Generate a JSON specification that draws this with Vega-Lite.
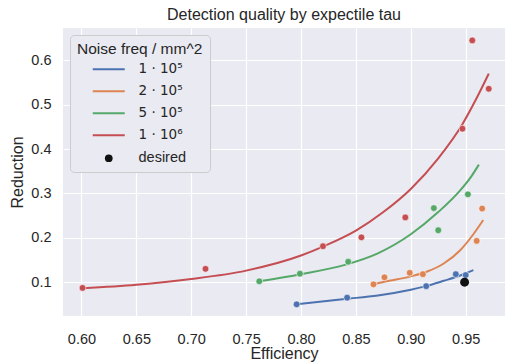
{
  "$schema": "https://vega.github.io/schema/vega-lite/v6.json",
  "autosize": "none",
  "width": 442,
  "height": 288,
  "padding": {"left": 63, "top": 28, "right": 0, "bottom": 48},
  "title": {"text": "Detection quality by expectile tau", "font": "Liberation Sans", "fontSize": 16, "fontWeight": "normal", "color": "#262626", "offset": 5},
  "config": {
    "view": {"fill": "#EAEAF2", "stroke": null},
    "axis": {"domain": false, "ticks": false, "gridColor": "#ffffff", "gridWidth": 1.2, "labelFont": "Liberation Sans", "labelFontSize": 14.5, "labelColor": "#262626", "titleFont": "Liberation Sans", "titleFontSize": 16, "titleFontWeight": "normal", "titleColor": "#262626"},
    "legend": {
      "orient": "none", "legendX": 7, "legendY": 7,
      "fillColor": "#EAEAF2", "strokeColor": "#cccccc", "cornerRadius": 4, "padding": 7,
      "titleFont": "Liberation Sans", "titleFontSize": 15.5, "titleFontWeight": "normal", "titleColor": "#262626",
      "labelFont": "Liberation Sans", "labelFontSize": 14.5, "labelColor": "#262626",
      "symbolSize": 1024, "symbolStrokeWidth": 2, "symbolOffset": 25, "labelOffset": 23, "rowPadding": 7, "titlePadding": 5
    }
  },
  "datasets": {
    "curves": [
      {"series": "1 · 10⁶", "x": 0.601, "y": 0.086},
      {"series": "1 · 10⁶", "x": 0.65, "y": 0.094},
      {"series": "1 · 10⁶", "x": 0.70, "y": 0.107},
      {"series": "1 · 10⁶", "x": 0.75, "y": 0.126},
      {"series": "1 · 10⁶", "x": 0.80, "y": 0.160},
      {"series": "1 · 10⁶", "x": 0.82, "y": 0.180},
      {"series": "1 · 10⁶", "x": 0.85, "y": 0.216},
      {"series": "1 · 10⁶", "x": 0.875, "y": 0.258},
      {"series": "1 · 10⁶", "x": 0.90, "y": 0.310},
      {"series": "1 · 10⁶", "x": 0.925, "y": 0.379},
      {"series": "1 · 10⁶", "x": 0.947, "y": 0.456},
      {"series": "1 · 10⁶", "x": 0.960, "y": 0.515},
      {"series": "1 · 10⁶", "x": 0.971, "y": 0.570},
      {"series": "5 · 10⁵", "x": 0.762, "y": 0.102},
      {"series": "5 · 10⁵", "x": 0.80, "y": 0.118},
      {"series": "5 · 10⁵", "x": 0.84, "y": 0.139},
      {"series": "5 · 10⁵", "x": 0.87, "y": 0.165},
      {"series": "5 · 10⁵", "x": 0.90, "y": 0.208},
      {"series": "5 · 10⁵", "x": 0.925, "y": 0.258},
      {"series": "5 · 10⁵", "x": 0.945, "y": 0.307},
      {"series": "5 · 10⁵", "x": 0.955, "y": 0.338},
      {"series": "5 · 10⁵", "x": 0.962, "y": 0.365},
      {"series": "2 · 10⁵", "x": 0.866, "y": 0.095},
      {"series": "2 · 10⁵", "x": 0.876, "y": 0.101},
      {"series": "2 · 10⁵", "x": 0.90, "y": 0.113},
      {"series": "2 · 10⁵", "x": 0.915, "y": 0.124},
      {"series": "2 · 10⁵", "x": 0.93, "y": 0.142},
      {"series": "2 · 10⁵", "x": 0.945, "y": 0.172},
      {"series": "2 · 10⁵", "x": 0.957, "y": 0.208},
      {"series": "2 · 10⁵", "x": 0.966, "y": 0.240},
      {"series": "1 · 10⁵", "x": 0.796, "y": 0.050},
      {"series": "1 · 10⁵", "x": 0.84, "y": 0.062},
      {"series": "1 · 10⁵", "x": 0.87, "y": 0.070},
      {"series": "1 · 10⁵", "x": 0.90, "y": 0.083},
      {"series": "1 · 10⁵", "x": 0.914, "y": 0.091},
      {"series": "1 · 10⁵", "x": 0.93, "y": 0.103},
      {"series": "1 · 10⁵", "x": 0.945, "y": 0.115},
      {"series": "1 · 10⁵", "x": 0.957, "y": 0.127}
    ],
    "points": [
      {"series": "1 · 10⁶", "x": 0.601, "y": 0.087},
      {"series": "1 · 10⁶", "x": 0.713, "y": 0.130},
      {"series": "1 · 10⁶", "x": 0.820, "y": 0.181},
      {"series": "1 · 10⁶", "x": 0.855, "y": 0.201},
      {"series": "1 · 10⁶", "x": 0.895, "y": 0.246},
      {"series": "1 · 10⁶", "x": 0.947, "y": 0.446},
      {"series": "1 · 10⁶", "x": 0.956, "y": 0.645},
      {"series": "1 · 10⁶", "x": 0.971, "y": 0.536},
      {"series": "5 · 10⁵", "x": 0.762, "y": 0.102},
      {"series": "5 · 10⁵", "x": 0.799, "y": 0.119},
      {"series": "5 · 10⁵", "x": 0.843, "y": 0.146},
      {"series": "5 · 10⁵", "x": 0.921, "y": 0.267},
      {"series": "5 · 10⁵", "x": 0.925, "y": 0.217},
      {"series": "5 · 10⁵", "x": 0.952, "y": 0.298},
      {"series": "2 · 10⁵", "x": 0.866, "y": 0.095},
      {"series": "2 · 10⁵", "x": 0.876, "y": 0.111},
      {"series": "2 · 10⁵", "x": 0.899, "y": 0.121},
      {"series": "2 · 10⁵", "x": 0.911, "y": 0.118},
      {"series": "2 · 10⁵", "x": 0.960, "y": 0.193},
      {"series": "2 · 10⁵", "x": 0.965, "y": 0.266},
      {"series": "1 · 10⁵", "x": 0.796, "y": 0.050},
      {"series": "1 · 10⁵", "x": 0.842, "y": 0.065},
      {"series": "1 · 10⁵", "x": 0.914, "y": 0.091},
      {"series": "1 · 10⁵", "x": 0.941, "y": 0.118},
      {"series": "1 · 10⁵", "x": 0.950, "y": 0.116}
    ],
    "desired": [
      {"series": "desired", "x": 0.949, "y": 0.100}
    ]
  },
  "encoding": {
    "x": {"field": "x", "type": "quantitative", "title": "Efficiency",
      "scale": {"domain": [0.5832, 0.9858], "nice": false, "zero": false},
      "axis": {"values": [0.6, 0.65, 0.7, 0.75, 0.8, 0.85, 0.9, 0.95], "format": ".2f", "labelPadding": 16, "titlePadding": 0}},
    "y": {"field": "y", "type": "quantitative", "title": "Reduction",
      "scale": {"domain": [0.0237, 0.673], "nice": false, "zero": false},
      "axis": {"values": [0.1, 0.2, 0.3, 0.4, 0.5, 0.6], "format": ".1f", "labelPadding": 12, "titlePadding": 5}},
    "color": {"field": "series", "type": "nominal", "title": "Noise freq / mm^2",
      "scale": {"domain": ["1 · 10⁵", "2 · 10⁵", "5 · 10⁵", "1 · 10⁶", "desired"], "range": ["#4C72B0", "#DD8452", "#55A868", "#C44E52", "#111111"]},
      "legend": {"encode": {
        "symbols": {"update": {
          "shape": {"signal": "datum.value === 'desired' ? 'circle' : 'stroke'"},
          "size": {"signal": "datum.value === 'desired' ? 60 : 1024"},
          "stroke": {"scale": "color", "field": "value"},
          "fill": {"scale": "color", "field": "value"},
          "strokeWidth": {"signal": "datum.value === 'desired' ? 0 : 2"},
          "opacity": {"value": 1}
        }},
        "labels": {"update": {
          "font": {"signal": "datum.value === 'desired' ? 'Liberation Sans' : 'DejaVu Sans'"},
          "fontSize": {"signal": "datum.value === 'desired' ? 14.5 : 13.5"}
        }}
      }}}
  },
  "layer": [
    {"data": {"name": "curves"}, "mark": {"type": "line", "strokeWidth": 2, "interpolate": "monotone"}, "encoding": {"detail": {"field": "series"}}},
    {"data": {"name": "points"}, "mark": {"type": "point", "filled": true, "size": 46, "opacity": 1, "stroke": "#ffffff", "strokeWidth": 0.6}},
    {"data": {"name": "desired"}, "mark": {"type": "point", "filled": true, "size": 80, "opacity": 1}}
  ]
}
